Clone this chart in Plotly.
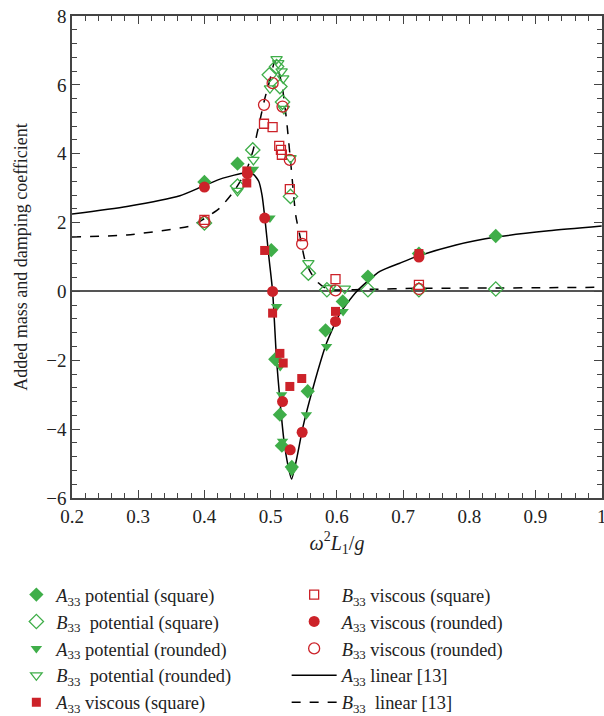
import plotly.graph_objects as go

# ---- data ----
# A33 potential (square) - filled green diamond
a_pot_sq_x = [0.400, 0.450, 0.501, 0.507, 0.514, 0.517, 0.532, 0.556, 0.583, 0.609, 0.647, 0.724, 0.840]
a_pot_sq_y = [3.18, 3.71, 1.20, -1.97, -3.58, -4.48, -5.10, -2.90, -1.13, -0.29, 0.43, 1.10, 1.61]
# B33 potential (square) - open green diamond
b_pot_sq_x = [0.400, 0.450, 0.473, 0.498, 0.509, 0.514, 0.518, 0.530, 0.557, 0.585, 0.647, 0.724, 0.840]
b_pot_sq_y = [1.99, 3.06, 4.11, 6.29, 6.53, 5.95, 5.50, 2.76, 0.53, 0.05, 0.05, 0.05, 0.07]
# A33 potential (rounded) - filled green triangle
a_pot_rd_x = [0.474, 0.499, 0.509, 0.5145, 0.5166, 0.518, 0.532, 0.554, 0.5845, 0.6095]
a_pot_rd_y = [3.55, 2.13, -0.44, -2.18, -3.00, -4.35, -5.22, -3.58, -1.60, -0.58]
# B33 potential (rounded) - open green triangle
b_pot_rd_x = [0.450, 0.474, 0.499, 0.509, 0.5115, 0.5166, 0.519, 0.520, 0.530, 0.557, 0.590, 0.612]
b_pot_rd_y = [2.92, 3.82, 5.90, 6.75, 6.63, 6.39, 6.19, 5.30, 3.87, 0.82, 0.10, 0.08]
# A33 viscous (square) - filled red square
a_vis_sq_x = [0.464, 0.464, 0.491, 0.503, 0.514, 0.519, 0.529, 0.547, 0.598, 0.724]
a_vis_sq_y = [3.50, 3.15, 1.19, -0.63, -1.80, -2.08, -2.76, -2.53, -0.58, 1.10]
# B33 viscous (square) - open red square
b_vis_sq_x = [0.400, 0.490, 0.503, 0.513, 0.5156, 0.517, 0.529, 0.5476, 0.598, 0.724]
b_vis_sq_y = [2.08, 4.87, 4.77, 4.23, 4.11, 3.97, 2.97, 1.61, 0.36, 0.19]
# A33 viscous (rounded) - filled red circle
a_vis_rd_x = [0.400, 0.465, 0.491, 0.503, 0.518, 0.5296, 0.5476, 0.598, 0.724]
a_vis_rd_y = [3.03, 3.42, 2.13, 0.00, -3.20, -4.60, -4.09, -0.87, 1.00]
# B33 viscous (rounded) - open red circle
b_vis_rd_x = [0.400, 0.490, 0.503, 0.518, 0.529, 0.5476, 0.598, 0.724]
b_vis_rd_y = [2.02, 5.42, 6.05, 5.37, 3.82, 1.38, 0.03, 0.07]
# A33 linear [13] - solid curve
a_lin_x = [0.200, 0.283, 0.363, 0.397, 0.428, 0.461, 0.474, 0.482, 0.487, 0.491, 0.4978, 0.503, 0.509, 0.514,
           0.520, 0.5265, 0.5316, 0.539, 0.549, 0.5646, 0.5845, 0.605, 0.630, 0.665, 0.695, 0.720, 0.780, 0.841,
           0.920, 1.000]
a_lin_y = [2.25, 2.47, 2.78, 3.05, 3.29, 3.44, 3.40, 3.20, 2.80, 2.18, 0.92, 0.00, -1.99, -3.15,
           -4.31, -5.08, -5.45, -4.89, -3.92, -2.76, -1.50, -0.63, 0.00, 0.58, 0.82, 1.01, 1.35, 1.58,
           1.76, 1.90]
# B33 linear [13] - dashed curve
b_lin_x = [0.200, 0.283, 0.378, 0.397, 0.423, 0.446, 0.4637, 0.4737, 0.484, 0.4913, 0.499, 0.5064, 0.5166,
           0.524, 0.531, 0.538, 0.545, 0.552, 0.562, 0.572, 0.585, 0.600, 0.650, 0.720, 0.840, 1.000]
b_lin_y = [1.58, 1.64, 1.90, 2.08, 2.42, 2.95, 3.53, 4.11, 4.98, 5.61, 6.15, 6.68, 6.05,
           4.98, 3.60, 2.20, 1.55, 0.90, 0.50, 0.25, 0.07, 0.04, 0.06, 0.09, 0.10, 0.12]

x_ticks = [0.2, 0.3, 0.4, 0.5, 0.6, 0.7, 0.8, 0.9, 1.0]
x_tick_text = ["0.2", "0.3", "0.4", "0.5", "0.6", "0.7", "0.8", "0.9", "1"]
y_ticks = [-6, -4, -2, 0, 2, 4, 6, 8]

GREEN = "#3fae49"
RED = "#cc2229"
FONT = "Liberation Serif, Times New Roman, serif"

fig = go.Figure()

def add_line(x, y, name, dash, legend):
    fig.add_trace(go.Scatter(x=x, y=y, mode="lines", name=name, legend=legend,
                             line=dict(color="black", width=1.5, dash=dash, shape="spline", smoothing=0.6)))

def add_pts(x, y, name, symbol, color, size, legend, open_=False):
    if open_:
        marker = dict(symbol=symbol + "-open", size=size, color=color, line=dict(width=1.3, color=color))
    else:
        marker = dict(symbol=symbol, size=size, color=color, line=dict(width=0))
    fig.add_trace(go.Scatter(x=x, y=y, mode="markers", name=name, legend=legend, marker=marker))

add_line(a_lin_x, a_lin_y, "<i>A</i><sub>33</sub> linear [13]", "solid", "legend2")
add_line(b_lin_x, b_lin_y, "<i>B</i><sub>33</sub>  linear [13]", "dash", "legend2")

add_pts(b_pot_sq_x, b_pot_sq_y, "<i>B</i><sub>33</sub>  potential (square)", "diamond", GREEN, 11, "legend", True)
add_pts(b_pot_rd_x, b_pot_rd_y, "<i>B</i><sub>33</sub>  potential (rounded)", "triangle-down", GREEN, 10, "legend", True)
add_pts(b_vis_sq_x, b_vis_sq_y, "<i>B</i><sub>33</sub> viscous (square)", "square", RED, 9, "legend2", True)
add_pts(b_vis_rd_x, b_vis_rd_y, "<i>B</i><sub>33</sub> viscous (rounded)", "circle", RED, 11, "legend2", True)
add_pts(a_pot_sq_x, a_pot_sq_y, "<i>A</i><sub>33</sub> potential (square)", "diamond", GREEN, 11, "legend")
add_pts(a_pot_rd_x, a_pot_rd_y, "<i>A</i><sub>33</sub> potential (rounded)", "triangle-down", GREEN, 10, "legend")
add_pts(a_vis_sq_x, a_vis_sq_y, "<i>A</i><sub>33</sub> viscous (square)", "square", RED, 9, "legend")
add_pts(a_vis_rd_x, a_vis_rd_y, "<i>A</i><sub>33</sub> viscous (rounded)", "circle", RED, 11, "legend2")

# legend ordering
ranks = {
    "<i>A</i><sub>33</sub> potential (square)": 1,
    "<i>B</i><sub>33</sub>  potential (square)": 2,
    "<i>A</i><sub>33</sub> potential (rounded)": 3,
    "<i>B</i><sub>33</sub>  potential (rounded)": 4,
    "<i>A</i><sub>33</sub> viscous (square)": 5,
    "<i>B</i><sub>33</sub> viscous (square)": 6,
    "<i>A</i><sub>33</sub> viscous (rounded)": 7,
    "<i>B</i><sub>33</sub> viscous (rounded)": 8,
    "<i>A</i><sub>33</sub> linear [13]": 9,
    "<i>B</i><sub>33</sub>  linear [13]": 10,
}
for tr in fig.data:
    tr.legendrank = ranks[tr.name]

axis_common = dict(
    showline=True, linecolor="#444", linewidth=1.5, mirror="ticks",
    ticks="inside", ticklen=8, tickwidth=1.2, tickcolor="#444",
    showgrid=False, tickfont=dict(family=FONT, size=19, color="#222"),
    ticklabeloverflow="allow",
)

fig.update_xaxes(range=[0.2, 1.0005], tickvals=x_ticks, ticktext=x_tick_text,
                 minor=dict(dtick=0.02, tick0=0.2, ticks="inside", ticklen=5, tickcolor="#444", tickwidth=1),
                 title=dict(text="<i>ω</i><sup>2</sup><i>L</i><sub>1</sub>/<i>g</i>",
                            font=dict(family=FONT, size=20, color="#222"), standoff=10),
                 zeroline=False, **axis_common)
fig.update_yaxes(range=[-6, 8], tickvals=y_ticks,
                 minor=dict(dtick=0.4, tick0=0, ticks="inside", ticklen=5, tickcolor="#444", tickwidth=1),
                 title=dict(text="Added mass and damping coefficient",
                            font=dict(family=FONT, size=18, color="#222"), standoff=14),
                 zeroline=True, zerolinecolor="#555", zerolinewidth=2, **axis_common)

legend_common = dict(font=dict(family=FONT, size=18.4, color="#222"), bgcolor="rgba(0,0,0,0)",
                     yanchor="top", xanchor="left", tracegroupgap=0)
fig.update_layout(
    width=604, height=716,
    margin=dict(l=72, r=2, t=16, b=218, autoexpand=False),
    paper_bgcolor="white", plot_bgcolor="white",
    legend=dict(x=-0.105, y=-0.162, itemwidth=30, **legend_common),
    legend2=dict(x=0.405, y=-0.162, itemwidth=45, **legend_common),
)

fig.write_html("out.html")
